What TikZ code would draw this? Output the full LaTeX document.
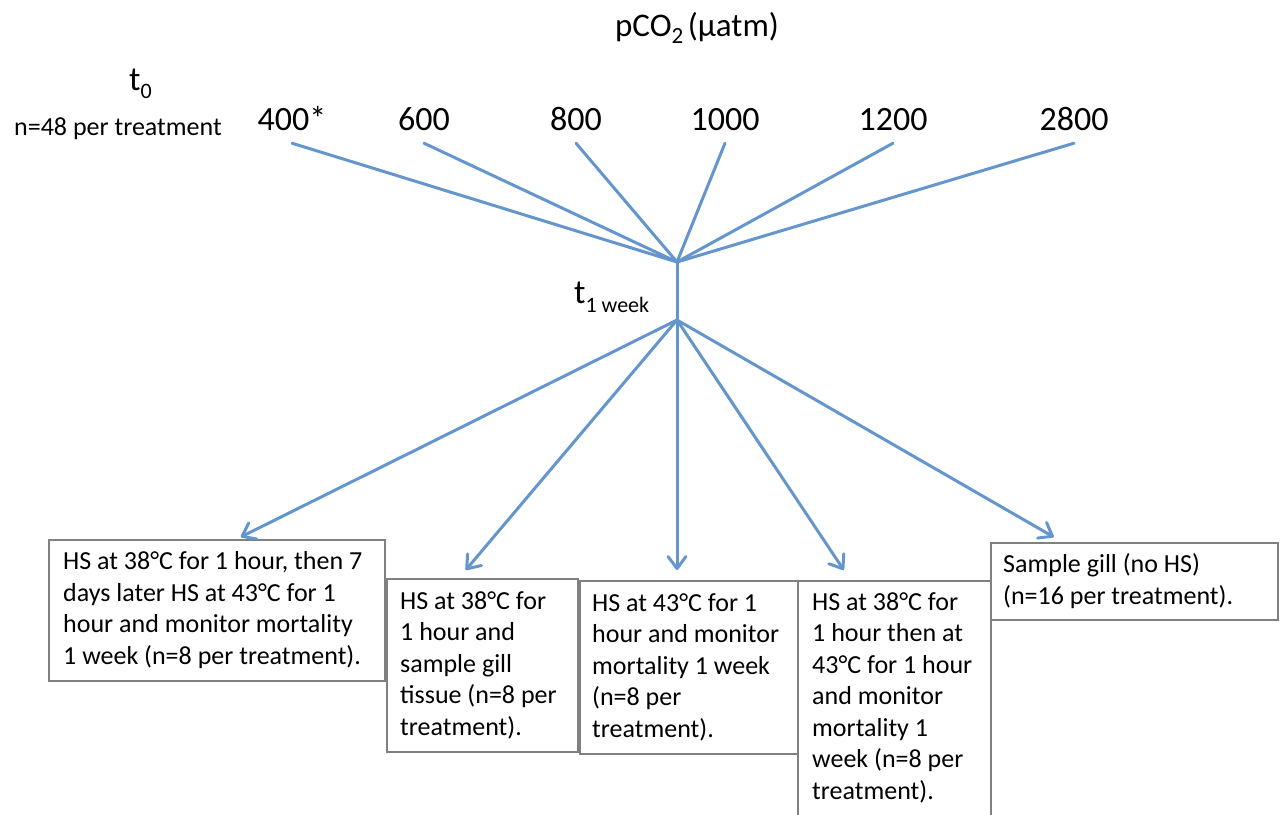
\documentclass[tikz,border=0pt]{standalone}
\usepackage{fontspec}
\setmainfont{Carlito}
\usetikzlibrary{arrows.meta,calc}
\definecolor{lineblue}{RGB}{100,150,205}
\definecolor{boxgray}{RGB}{128,128,128}
\begin{document}
\begin{tikzpicture}[x=1pt,y=-1pt,
  box/.style={draw=boxgray, line width=1.5pt, anchor=north west, inner sep=0pt},
  boxtext/.style={anchor=west, align=left, inner sep=0pt,
    font=\fontsize{26}{31.5}\selectfont},
  num/.style={anchor=base, font=\fontsize{34}{40}\selectfont, text depth=0pt,
    inner xsep=0pt, inner ysep=13pt},
  lbl/.style={anchor=base west, inner sep=0pt},
  conn/.style={lineblue, line width=3pt, line cap=round},
  arr/.style={conn, -{Straight Barb[length=12pt,width=18pt,round]}}
]
\useasboundingbox (0,0) rectangle (1282,814);

% header labels
\node[font=\fontsize{33}{38}\selectfont] (pco2) at (697,28) {pCO\textsubscript{2}\kern4pt(µatm)};
\node[lbl, font=\fontsize{34}{40}\selectfont] (t0) at (129,90) {t\raisebox{-8pt}{\fontsize{22}{24}\selectfont 0}};
\node[lbl, font=\fontsize{26}{30}\selectfont] (nlab) at (14,135) {n=48 per treatment};
\node[lbl, font=\fontsize{34}{40}\selectfont] (t1) at (574,303) {t\raisebox{-9pt}{\fontsize{22}{24}\selectfont 1 week}};

% pCO2 levels
\node[num] (n400) at (292,130) {400*};
\node[num] (n600) at (424,130) {600};
\node[num] (n800) at (576,130) {800};
\node[num] (n1000) at (725,130) {1000};
\node[num] (n1200) at (893,130) {1200};
\node[num] (n2800) at (1074,130) {2800};

\coordinate (hub1) at (677,262);
\coordinate (hub2) at (677,320);

\foreach \n in {n400,n600,n800,n1000,n1200,n2800}
  \draw[conn] (\n.south) -- (hub1);
\draw[conn] (hub1) -- (hub2);

% treatment boxes
\node[box, minimum width=336pt, minimum height=141pt] (b1) at (48,539) {};
\node[boxtext] (b1t) at ([xshift=15pt]b1.west)
  {HS at 38°C for 1 hour, then 7\\days later HS at 43°C for 1\\hour and monitor mortality\\1 week (n=8 per treatment).};
\node[box, minimum width=191pt, minimum height=173pt] (b2) at (386,578) {};
\node[boxtext] (b2t) at ([xshift=14pt]b2.west)
  {HS at 38°C for\\1 hour and\\sample gill\\tissue (n=8 per\\treatment).};
\node[box, minimum width=218pt, minimum height=173pt] (b3) at (579,580) {};
\node[boxtext] (b3t) at ([xshift=13pt]b3.west)
  {HS at 43°C for 1\\hour and monitor\\mortality 1 week\\(n=8 per\\treatment).};
\node[box, minimum width=193pt, minimum height=238pt] (b4) at (797,580) {};
\node[boxtext] (b4t) at ([xshift=15pt,yshift=2pt]b4.west)
  {HS at 38°C for\\1 hour then at\\43°C for 1 hour\\and monitor\\mortality 1\\week (n=8 per\\treatment).};
\node[box, minimum width=287pt, minimum height=77pt] (b5) at (990,542) {};
\node[boxtext] (b5t) at ([xshift=13pt]b5.west)
  {Sample gill (no HS)\\(n=16 per treatment).};

% arrows
\draw[arr] (hub2) -- ([xshift=24pt,yshift=2pt]b1.north);
\draw[arr] (hub2) -- ([xshift=-16.5pt,yshift=8pt]b2.north);
\draw[arr] (hub2) -- ([yshift=10pt]hub2 |- b3.north);
\draw[arr] (hub2) -- ([xshift=-50.5pt,yshift=10pt]b4.north);
\draw[arr] (hub2) -- ([xshift=-80.5pt,yshift=5pt]b5.north);
\end{tikzpicture}
\end{document}
